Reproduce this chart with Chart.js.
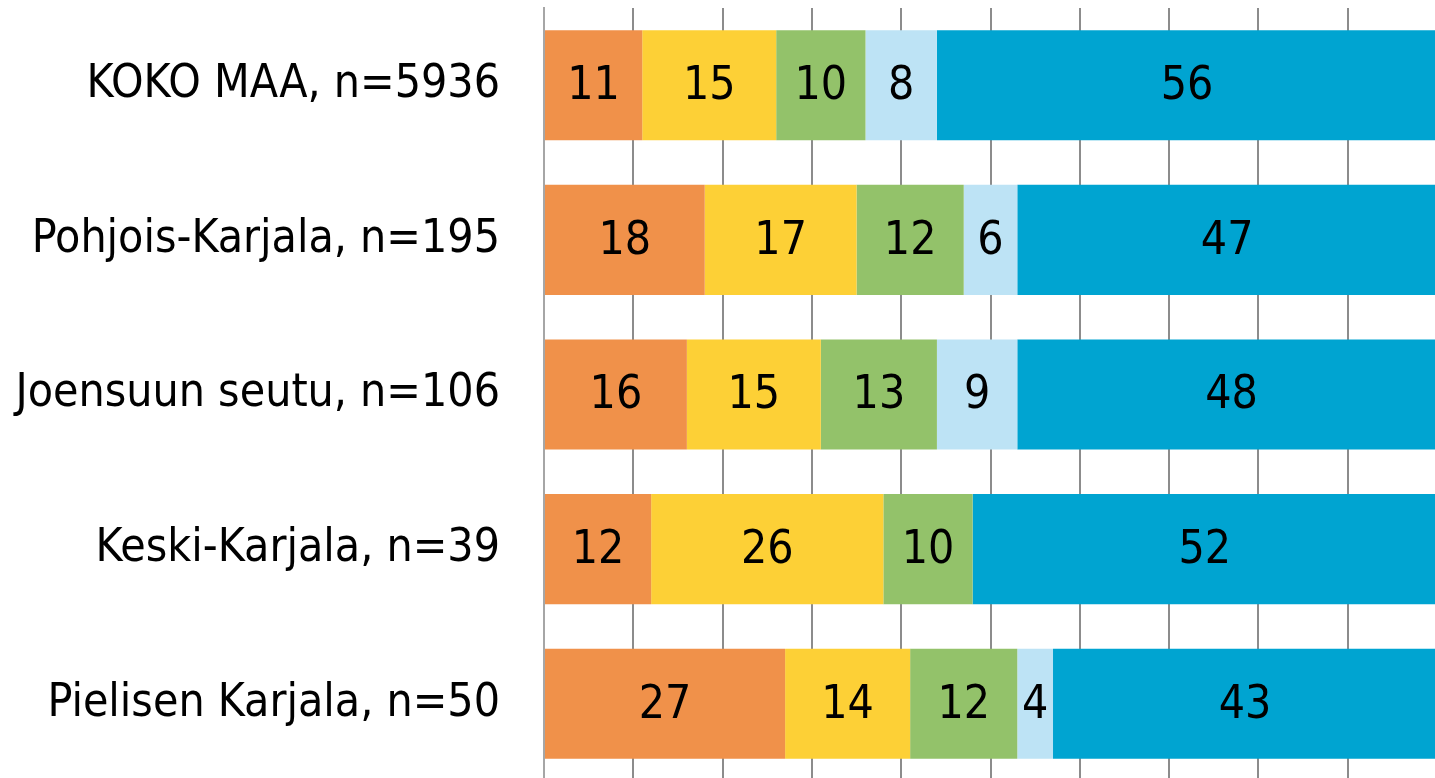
<!DOCTYPE html>
<html>
<head>
<meta charset="utf-8">
<script src="https://cdn.jsdelivr.net/npm/chart.js@4/dist/chart.umd.min.js"></script>
<style>
  html, body { margin: 0; padding: 0; background: #fff; overflow: hidden; }
  #wrap { width: 1437px; height: 781px; }
</style>
</head>
<body>
<div id="wrap"><canvas id="chart"></canvas></div>
<script>
// regions and shares (%) per answer group
const categories = ['KOKO MAA, n=5936', 'Pohjois-Karjala, n=195', 'Joensuun seutu, n=106', 'Keski-Karjala, n=39', 'Pielisen Karjala, n=50'];
const orangeVals = [11, 18, 16, 12, 27];
const yellowVals = [15, 17, 15, 26, 14];
const greenVals = [10, 12, 13, 10, 12];
const lightBlueVals = [8, 6, 9, 0, 4];
const blueVals = [56, 47, 48, 52, 43];

const fontFamily = '"DejaVu Sans Condensed", "DejaVu Sans", sans-serif';

// draws the numbers in the middle of each segment
const segmentLabels = {
    id: 'segmentLabels',
    afterDatasetsDraw(chart) {
        const ctx = chart.ctx;
        ctx.save();
        ctx.font = '46px ' + fontFamily;
        ctx.fillStyle = '#000';
        ctx.textAlign = 'center';
        ctx.textBaseline = 'middle';
        chart.data.datasets.forEach((ds, i) => {
            chart.getDatasetMeta(i).data.forEach((bar, j) => {
                const v = ds.data[j];
                if (!v) return;
                ctx.fillText(String(v), (bar.x + bar.base) / 2, bar.y + 2);
            });
        });
        ctx.restore();
    }
};

const ds = (data, color) => ({
    data: data,
    backgroundColor: color,
    borderWidth: 0,
    barPercentage: 0.712,
    categoryPercentage: 1
});

new Chart(document.getElementById('chart'), {
    type: 'bar',
    data: {
        labels: categories,
        datasets: [
            ds(orangeVals, '#F0914A'),
            ds(yellowVals, '#FDD036'),
            ds(greenVals, '#93C26A'),
            ds(lightBlueVals, '#BDE3F5'),
            ds(blueVals, '#00A4D1')
        ]
    },
    options: {
        indexAxis: 'y',
        responsive: true,
        maintainAspectRatio: false,
        animation: false,
        layout: { padding: { top: 8, right: 0, bottom: 0, left: 0 } },
        plugins: {
            legend: { display: false },
            tooltip: { enabled: false }
        },
        scales: {
            x: {
                stacked: true,
                min: 0,
                max: 100,
                afterFit: (scale) => { scale.height = 0; scale.paddingLeft = 0; scale.paddingRight = 0; },
                ticks: { display: false, stepSize: 10 },
                grid: { color: '#8c8c8c', lineWidth: 2, drawTicks: false },
                border: { display: false }
            },
            y: {
                stacked: true,
                afterFit: (scale) => {
                    scale.width = 544;
                    scale.paddingTop = 0;
                    scale.paddingBottom = 0;
                },
                ticks: {
                    color: '#000',
                    padding: 44,
                    font: { family: fontFamily, size: 46 }
                },
                grid: { display: false, drawTicks: false },
                border: { display: true, color: '#a6a6a6', width: 2 }
            }
        }
    },
    plugins: [segmentLabels]
});
</script>
</body>
</html>
